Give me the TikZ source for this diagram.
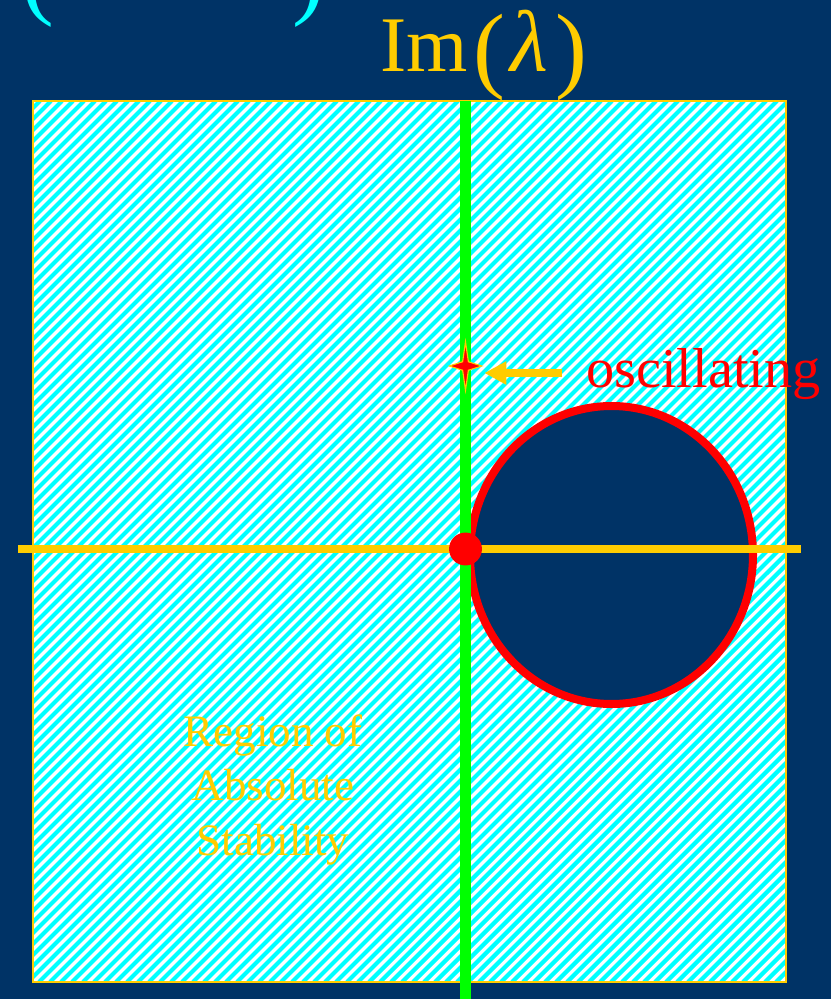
\documentclass[tikz,border=0pt]{standalone}
\usepackage{fontspec}
\setmainfont{Liberation Serif}
\usetikzlibrary{shapes.geometric,arrows.meta}
\definecolor{navy}{RGB}{0,51,102}
\definecolor{gold}{RGB}{255,204,0}
\definecolor{aqua}{RGB}{0,255,255}
\definecolor{lime}{RGB}{0,255,0}
\begin{document}
\begin{tikzpicture}[x=0.025cm,y=-0.025cm,
 stripe/.style={aqua,line width=3pt},
 frame/.style={draw=gold,line width=1pt},
 reaxis/.style={gold,line width=5.3pt},
 imaxis/.style={lime,line width=7.8pt},
 loop/.style={draw=red,fill=navy,line width=5.7pt},
 dot/.style={circle,fill=red,minimum size=23.4pt,inner sep=0pt},
 spark/.style={star,star points=4,star point ratio=4,draw=gold,fill=red,
               line width=0.8pt,minimum size=23pt,inner sep=0pt,
               yscale=1.5,transform shape},
 pointer/.style={gold,line width=5pt,-{Triangle[length=15.6pt,width=15.6pt]}},
 paren/.style={text=aqua,inner sep=0pt,font=\fontsize{70}{70}\selectfont},
 lbl/.style={inner sep=0pt}]
 \fill[navy] (0,0) rectangle (831,999);
 \useasboundingbox (0,0) rectangle (831,999);
 % bottoms of the parentheses cut off at the top
 \node[paren,anchor=south east] (lpar) at (55,28) {(};
 \node[paren,anchor=south west] (rpar) at (292,28) {)};
 \node[lbl,text=gold,anchor=base west] (imlbl) at (380,72)
  {\fontsize{56}{60}\selectfont Im\hspace{4pt}\raisebox{-6.2pt}{\fontsize{68}{70}\selectfont(}\hspace{4pt}{\fontsize{62}{62}\selectfont\textit{λ}}\hspace{5pt}\raisebox{-6.2pt}{\fontsize{68}{70}\selectfont)}};
 % hatched region
 \fill[white] (33,101) rectangle (786,982);
 \begin{scope}
  \clip (33,101) rectangle (786,982);
  \foreach \c in {130,141,...,1775}
   \draw[stripe] (\c-982,982) -- (\c-101,101);
 \end{scope}
 \draw[frame] (33,101) rectangle (786,982);
 \draw[loop] (611.5,555) ellipse [x radius=141.5,y radius=149];
 \coordinate (xl) at (18,549);
 \coordinate (xr) at (801,549);
 \coordinate (yt) at (465.5,101);
 \coordinate (yb) at (465.5,999);
 \draw[reaxis] (xl) -- (xr);
 \draw[imaxis] (yt) -- (yb);
 \node[dot] (origin) at (465.5,549) {};
 \node[spark] (osc) at (465.5,366) {};
 \coordinate (arrtail) at (562,373);
 \draw[pointer] (arrtail) -- (osc.east |- arrtail);
 \node[lbl,text=red,anchor=base west,font=\fontsize{40}{42}\selectfont] (osclbl) at (586,387) {oscillating};
 \node[lbl,text=gold,align=center,font=\fontsize{32}{39}\selectfont] (region) at (273,790)
  {Region of\\Absolute\\Stability};
\end{tikzpicture}
\end{document}
